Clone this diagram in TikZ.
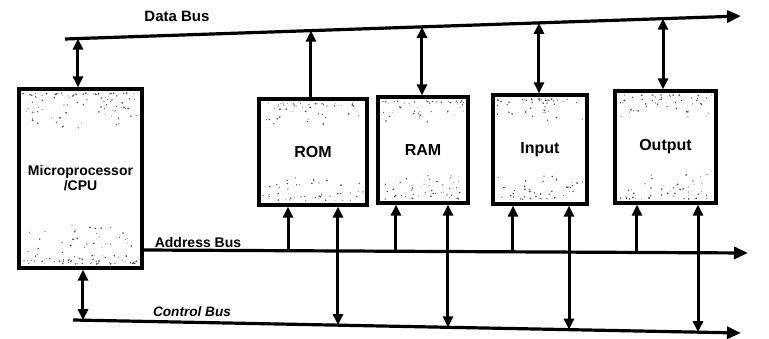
\documentclass[tikz,border=0pt]{standalone}
\usepackage{fontspec}
\setmainfont{Liberation Sans}
\usetikzlibrary{arrows.meta,calc}
\tikzset{
  bus/.style={line width=3.2pt},
  uptip/.style={line width=3pt,-{Triangle[length=11pt,width=10pt]}},
  twotip/.style={line width=3pt,{Triangle[length=11pt,width=10pt]}-{Triangle[length=11pt,width=10pt]}},
  bustip/.style={bus,-{Triangle[length=14pt,width=12pt]}},
  unit/.style={draw, line width=3.2pt, inner sep=0pt, font=\bfseries\fontsize{16}{18}\selectfont},
  cpu/.style={unit, align=center, font=\bfseries\fontsize{14}{15}\selectfont},
  lab/.style={inner sep=0pt, font=\bfseries\fontsize{14}{16}\selectfont},
}
\newcommand{\busx}[6]{\coordinate (#1) at ($(#2)!{(#6-#4)/(#5-#4)}!(#3)$);}
\newcommand{\speckle}[5]{%
  \foreach \k in {1,...,#5}{%
    \pgfmathsetmacro\sx{#1+4+rnd*(#3-#1-8)}%
    \pgfmathsetmacro\sr{rnd}%
    \pgfmathsetmacro\sy{#2+4+\sr*\sr*0.2*(#4-#2)}%
    \pgfmathsetmacro\sd{0.4+0.6*rnd}%
    \fill[black!70] (\sx,\sy) circle[radius=\sd];%
    \pgfmathsetmacro\sx{#1+4+rnd*(#3-#1-8)}%
    \pgfmathsetmacro\sr{rnd}%
    \pgfmathsetmacro\sy{#4-4-\sr*\sr*0.22*(#4-#2)}%
    \fill[black!70] (\sx,\sy) circle[radius=\sd];%
  }}
\begin{document}
\begin{tikzpicture}[x=1pt,y=-1pt]
\useasboundingbox (0,0) rectangle (769,339);
\pgfmathsetseed{7}
% speckle texture
\speckle{19}{89}{142}{268}{90}
\speckle{259}{99}{367}{205}{45}
\speckle{378}{97}{468}{203}{45}
\speckle{493}{95}{587}{204}{45}
\speckle{615}{91}{716}{203}{50}
% units
\node[cpu, minimum width=123pt, minimum height=179pt] (CPU) at (80.5,178.5) {Microprocessor\\/CPU};
\node[unit, minimum width=108pt, minimum height=106pt] (ROM) at (313,152) {ROM};
\node[unit, minimum width=90pt, minimum height=106pt] (RAM) at (423,150) {RAM};
\node[unit, minimum width=94pt, minimum height=109pt] (IN) at (540,149.5) {Input};
\node[unit, minimum width=101pt, minimum height=112pt] (OUT) at (665.5,147) {Output};
% buses
\coordinate (dL) at (65,39); \coordinate (dR) at (741,16);
\coordinate (aL) at (142,250); \coordinate (aR) at (748,253);
\coordinate (cL) at (73,320); \coordinate (cR) at (741,333);
\draw[bustip] (dL) -- (dR);
\draw[bustip] (aL) -- (aR);
\draw[bustip] (cL) -- (cR);
\node[lab] (dlab) at (177,16) {\fontsize{15}{17}\selectfont Data Bus};
\node[lab] (alab) at (198,242) {Address Bus};
\node[lab, font=\bfseries\itshape\fontsize{13.6}{16}\selectfont] (clab) at (192,312) {Control Bus};
% data bus taps
\busx{d0}{dL}{dR}{65}{741}{78}
\busx{d1}{dL}{dR}{65}{741}{311}
\busx{d2}{dL}{dR}{65}{741}{422}
\busx{d3}{dL}{dR}{65}{741}{539}
\busx{d4}{dL}{dR}{65}{741}{663}
\draw[twotip] (d0) -- (d0 |- CPU.north);
\draw[uptip] (d1 |- ROM.north) -- (d1);
\draw[twotip] (d2) -- (d2 |- RAM.north);
\draw[twotip] (d3) -- (d3 |- IN.north);
\draw[twotip] (d4) -- (d4 |- OUT.north);
% address bus taps
\busx{a1}{aL}{aR}{142}{748}{288}
\busx{a2}{aL}{aR}{142}{748}{396}
\busx{a3}{aL}{aR}{142}{748}{513}
\busx{a4}{aL}{aR}{142}{748}{637}
\draw[uptip] (a1) -- (a1 |- ROM.south);
\draw[uptip] (a2) -- (a2 |- RAM.south);
\draw[uptip] (a3) -- (a3 |- IN.south);
\draw[uptip] (a4) -- (a4 |- OUT.south);
% control bus taps
\busx{c0}{cL}{cR}{73}{741}{83}
\busx{c1}{cL}{cR}{73}{741}{338}
\busx{c2}{cL}{cR}{73}{741}{448}
\busx{c3}{cL}{cR}{73}{741}{569}
\busx{c4}{cL}{cR}{73}{741}{698}
\draw[twotip] (c0 |- CPU.south) -- (c0);
\draw[twotip] (c1 |- ROM.south) -- (c1);
\draw[twotip] (c2 |- RAM.south) -- (c2);
\draw[twotip] (c3 |- IN.south) -- (c3);
\draw[twotip] (c4 |- OUT.south) -- (c4);
\end{tikzpicture}
\end{document}
